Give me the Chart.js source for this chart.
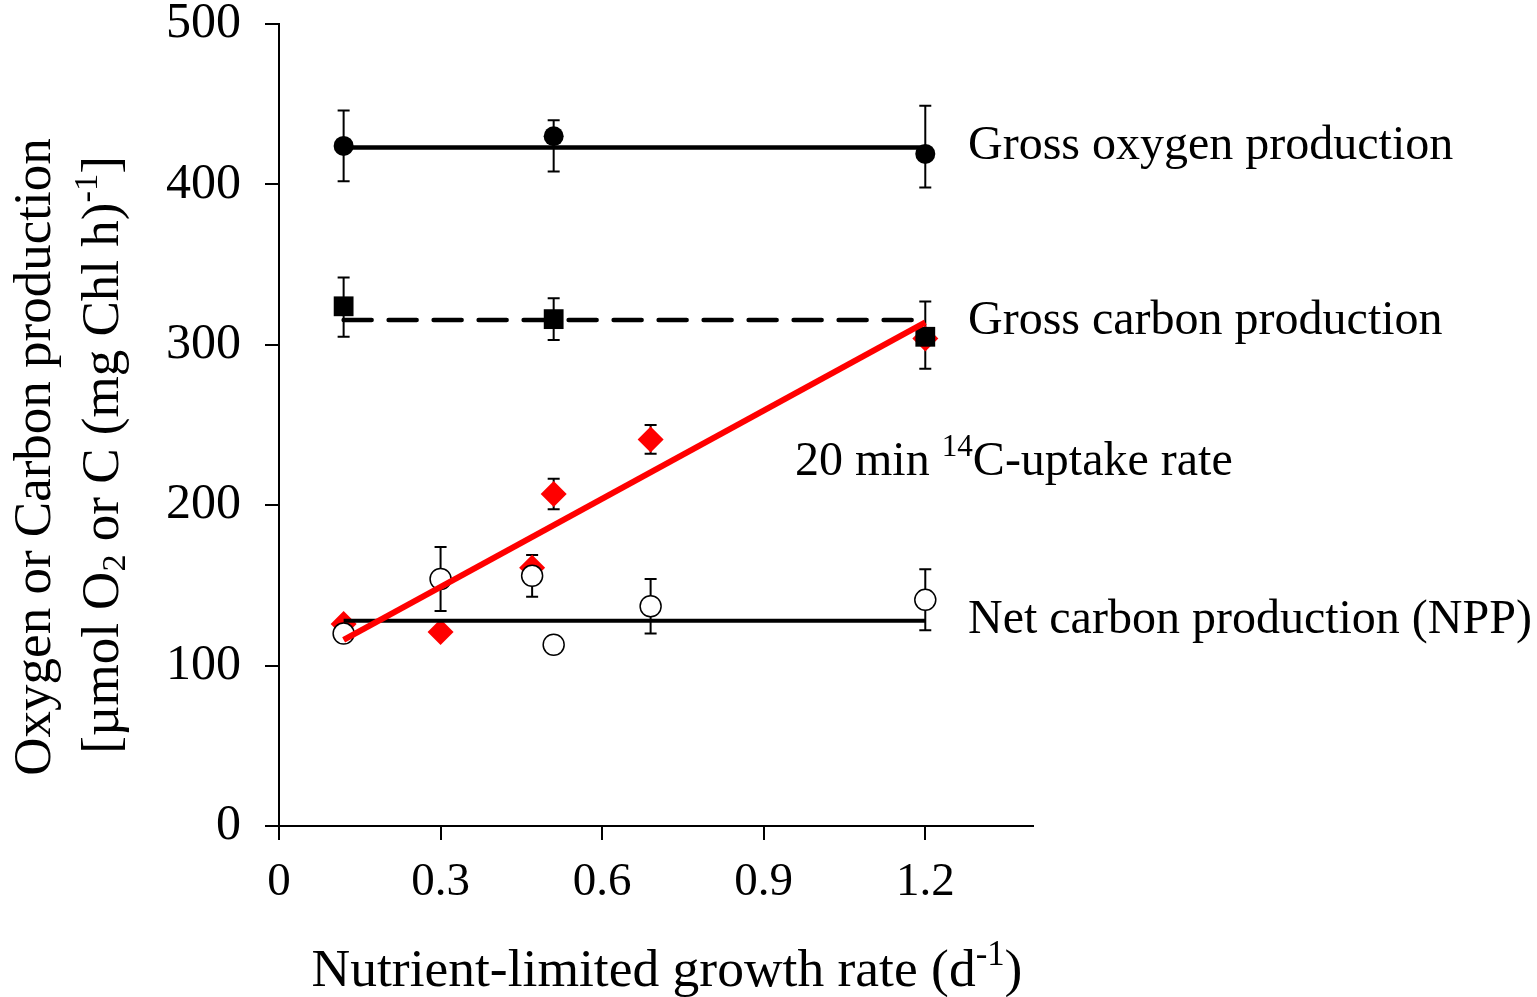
<!DOCTYPE html>
<html>
<head>
<meta charset="utf-8">
<script src="https://cdn.jsdelivr.net/npm/chart.js@4.4.0/dist/chart.umd.min.js"></script>
<style>
html, body { margin: 0; padding: 0; background: #fff; }
#wrap { width: 1537px; height: 997px; }
</style>
</head>
<body>
<div id="wrap"><canvas id="chart" width="1537" height="997"></canvas></div>
<script>
const FONT = '"Liberation Serif", "Times New Roman", serif';

// growth rate (d-1) and gross oxygen production
const ratesO2 = [0.12, 0.51, 1.2];
const grossO2 = [424, 430, 419];
const grossO2Up = [22, 10, 30];
const grossO2Down = [22, 22, 21];
const grossO2Mean = 423;

// gross carbon production
const ratesC = [0.12, 0.51, 1.2];
const grossC = [324, 316, 305];
const grossCUp = [18, 13, 22];
const grossCDown = [19, 13, 20];
const grossCMean = 315.5;

// 20 min 14C uptake
const rates14C = [0.12, 0.3, 0.47, 0.51, 0.69, 1.2];
const uptake14C = [126, 121, 161, 207, 241, 304];
const uptake14CErr = [0, 0, 0, 9.5, 9, 0];
const fit14C = [116, 314]; // regression at first and last rate

// net carbon production (NPP)
const ratesNPP = [0.12, 0.3, 0.47, 0.51, 0.69, 1.2];
const npp = [120, 154, 156, 113, 137, 141];
const nppErr = [0, 20, 13, 0, 17, 19];
const nppMean = 128;

const xTicks = [0, 0.3, 0.6, 0.9, 1.2];
const yTicks = [0, 100, 200, 300, 400, 500];

const pts = (xs, ys) => xs.map((x, i) => ({ x: x, y: ys[i] }));
const flat = (xs, v) => [{ x: xs[0], y: v }, { x: xs[xs.length - 1], y: v }];

// error bars (drawn under the markers)
const errorBars = {
  id: 'errorBars',
  beforeDatasetsDraw(chart) {
    const ctx = chart.ctx;
    const xs = chart.scales.x, ys = chart.scales.y;
    ctx.save();
    ctx.strokeStyle = '#000';
    ctx.lineWidth = 2;
    chart.data.datasets.forEach(ds => {
      if (!ds.errUp) return;
      ds.data.forEach((p, i) => {
        const up = ds.errUp[i], dn = ds.errDown[i];
        if (!up && !dn) return;
        const px = xs.getPixelForValue(p.x);
        const top = ys.getPixelForValue(p.y + up);
        const bot = ys.getPixelForValue(p.y - dn);
        ctx.beginPath();
        ctx.moveTo(px, top); ctx.lineTo(px, bot);
        ctx.moveTo(px - 6, top); ctx.lineTo(px + 6, top);
        ctx.moveTo(px - 6, bot); ctx.lineTo(px + 6, bot);
        ctx.stroke();
      });
    });
    ctx.restore();
  }
};

// text with super/subscripts
function drawRich(ctx, parts, x, y, size, align) {
  const widths = parts.map(p => {
    const s = p.k ? size * 0.65 : size;
    ctx.font = s + 'px ' + FONT;
    return ctx.measureText(p.t).width;
  });
  const total = widths.reduce((a, b) => a + b, 0);
  let cx = align === 'center' ? x - total / 2 : x;
  parts.forEach((p, i) => {
    const s = p.k ? size * 0.65 : size;
    ctx.font = s + 'px ' + FONT;
    let dy = 0;
    if (p.k === 'sup') dy = -size * 0.3;
    if (p.k === 'sub') dy = size * 0.22;
    ctx.fillText(p.t, cx, y + dy);
    cx += widths[i];
  });
}

const labels = {
  id: 'labels',
  afterDraw(chart) {
    const ctx = chart.ctx;
    ctx.save();
    ctx.fillStyle = '#000';
    ctx.textAlign = 'left';
    ctx.textBaseline = 'middle';
    drawRich(ctx, [{ t: 'Gross oxygen production' }], 968, 146, 48, 'left');
    drawRich(ctx, [{ t: 'Gross carbon production' }], 968, 321, 48, 'left');
    drawRich(ctx, [{ t: '20 min ' }, { t: '14', k: 'sup' }, { t: 'C-uptake rate' }], 795, 462, 48, 'left');
    drawRich(ctx, [{ t: 'Net carbon production (NPP)' }], 968, 620, 48, 'left');

    drawRich(ctx, [{ t: 'Nutrient-limited growth rate (d' }, { t: '-1', k: 'sup' }, { t: ')' }], 667, 972, 53.5, 'center');

    ctx.save();
    ctx.translate(36, 457);
    ctx.rotate(-Math.PI / 2);
    drawRich(ctx, [{ t: 'Oxygen or Carbon production' }], 0, 0, 53, 'center');
    ctx.restore();
    ctx.save();
    ctx.translate(104, 455);
    ctx.rotate(-Math.PI / 2);
    drawRich(ctx, [{ t: '[\u00b5mol O' }, { t: '2', k: 'sub' }, { t: ' or C (mg Chl h)' }, { t: '-1', k: 'sup' }, { t: ']' }], 0, 0, 53, 'center');
    ctx.restore();
    ctx.restore();
  }
};

const axisStyle = {
  grid: { display: true, drawOnChartArea: false, drawTicks: true, tickLength: 14, color: '#000', lineWidth: 2 },
  border: { display: true, color: '#000', width: 2 }
};

new Chart('chart', {
  type: 'scatter',
  data: {
    datasets: [
      { label: 'Gross O2 mean', data: flat(ratesO2, grossO2Mean), showLine: true, borderColor: '#000', borderWidth: 4.5, pointRadius: 0, order: 9 },
      { label: 'Gross oxygen production', data: pts(ratesO2, grossO2), errUp: grossO2Up, errDown: grossO2Down,
        pointStyle: 'circle', pointRadius: 10, backgroundColor: '#000', borderColor: '#000', borderWidth: 0, order: 8 },
      { label: 'Gross C mean', data: flat(ratesC, grossCMean), showLine: true, borderColor: '#000', borderWidth: 4.5,
        borderDash: [28, 17], borderCapStyle: 'round', pointRadius: 0, order: 7 },
      { label: '20 min 14C-uptake rate', data: pts(rates14C, uptake14C), errUp: uptake14CErr, errDown: uptake14CErr,
        pointStyle: 'rectRot', pointRadius: 13, backgroundColor: '#ff0000', borderColor: '#ff0000', borderWidth: 0, order: 6 },
      { label: 'Gross carbon production', data: pts(ratesC, grossC), errUp: grossCUp, errDown: grossCDown,
        pointStyle: 'rect', pointRadius: 14, backgroundColor: '#000', borderColor: '#000', borderWidth: 0, order: 5 },
      { label: 'NPP mean', data: flat(ratesNPP, nppMean), showLine: true, borderColor: '#000', borderWidth: 4, pointRadius: 0, order: 4 },
      { label: 'Net carbon production (NPP)', data: pts(ratesNPP, npp), errUp: nppErr, errDown: nppErr,
        pointStyle: 'circle', pointRadius: 10.5, backgroundColor: '#fff', borderColor: '#000', borderWidth: 1.5, order: 3 },
      { label: '14C fit', data: [{ x: rates14C[0], y: fit14C[0] }, { x: rates14C[rates14C.length - 1], y: fit14C[1] }],
        showLine: true, borderColor: '#ff0000', borderWidth: 6, pointRadius: 0, order: 2 }
    ]
  },
  options: {
    responsive: false,
    animation: false,
    devicePixelRatio: 1,
    layout: { padding: { left: 0, top: 24, right: 504, bottom: 0 } },
    plugins: { legend: { display: false }, tooltip: { enabled: false } },
    scales: {
      x: Object.assign({
        type: 'linear', min: 0, max: 1.4,
        afterBuildTicks: s => { s.ticks = xTicks.map(v => ({ value: v })); },
        afterFit: s => { s.height = 171; s.paddingLeft = 0; s.paddingRight = 0; },
        ticks: { color: '#000', font: { family: FONT, size: 47 }, padding: 14, maxRotation: 0, autoSkip: false,
          callback: v => String(Math.round(v * 10) / 10) }
      }, axisStyle),
      y: Object.assign({
        type: 'linear', min: 0, max: 500,
        afterBuildTicks: s => { s.ticks = yTicks.map(v => ({ value: v })); },
        afterFit: s => { s.width = 279; s.paddingTop = 0; s.paddingBottom = 0; },
        ticks: { color: '#000', font: { family: FONT, size: 50 }, padding: 24 }
      }, axisStyle)
    }
  },
  plugins: [errorBars, labels]
});
</script>
</body>
</html>
